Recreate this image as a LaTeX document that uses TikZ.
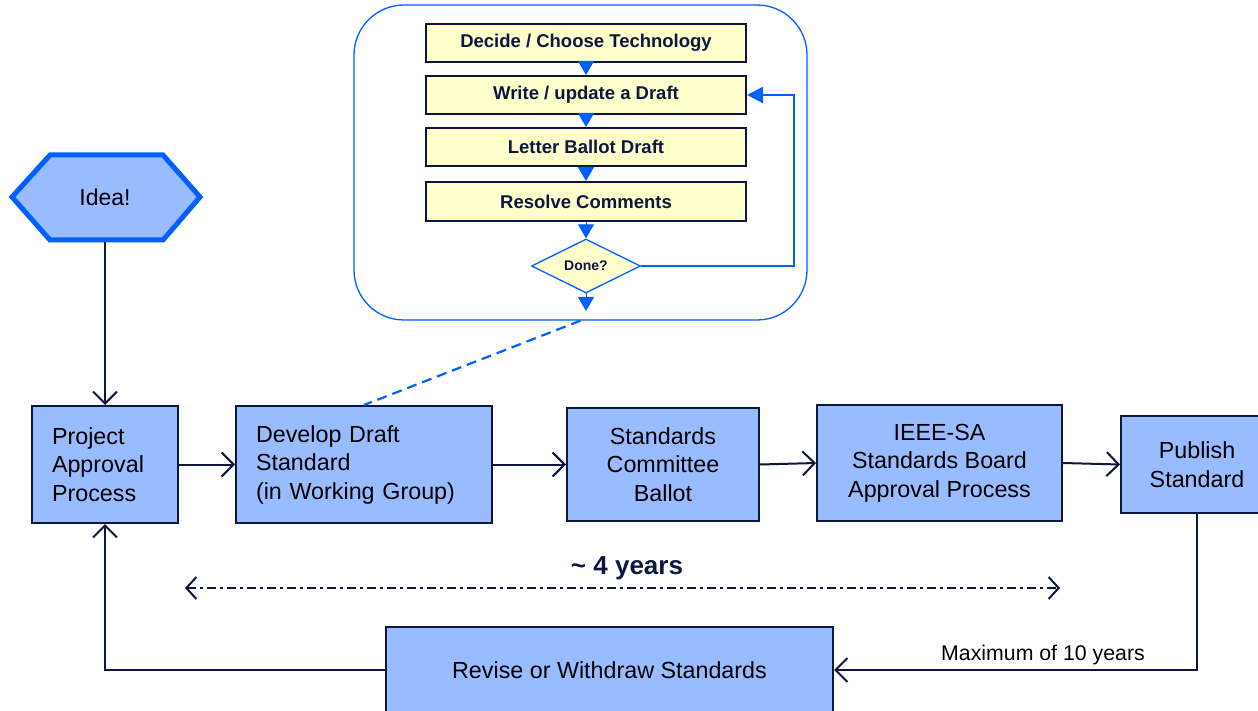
\documentclass[tikz,border=0pt]{standalone}
\usepackage{fontspec}
\setmainfont{Liberation Sans}
\usetikzlibrary{shapes.geometric,arrows.meta}
\definecolor{boxfill}{RGB}{153,187,255}
\definecolor{navy}{RGB}{12,22,62}
\definecolor{vblue}{RGB}{0,95,255}
\definecolor{pyellow}{RGB}{255,255,204}
\tikzset{
  mainbox/.style={draw=navy, line width=2pt, fill=boxfill, inner sep=0pt, font=\fontsize{23.3}{28.5}\selectfont, text=black},
  stepbox/.style={draw=navy, line width=2pt, fill=pyellow, minimum width=320pt, inner sep=0pt, font=\bfseries\fontsize{18.5}{21}\selectfont, text=navy},
  conn/.style={draw=navy, line width=2pt, -{Straight Barb[length=12pt,width=24pt,line width=2pt]}},
  bluetri/.style={draw=vblue, line width=1pt, -{Triangle[length=14pt,width=16pt]}, vblue},
}
\begin{document}
\begin{tikzpicture}[x=1pt,y=-1pt]
\useasboundingbox (0,0) rectangle (1258,711);
% container
\node[draw=vblue, line width=1.3pt, rounded corners=50pt, minimum width=453pt, minimum height=315pt, inner sep=0pt] (cont) at (580.5,162.5) {};
% steps
\node[stepbox, minimum height=38pt] (b1) at (586,43) {Decide / Choose Technology};
\node[stepbox, minimum height=38pt] (b2) at (586,95) {Write / update a Draft};
\node[stepbox, minimum height=38pt] (b3) at (586,147) {Letter Ballot Draft};
\node[stepbox, minimum height=39pt] (b4) at (586,201.5) {Resolve Comments};
\node[diamond, draw=vblue, line width=1.3pt, fill=pyellow, minimum width=109pt, minimum height=54pt, inner sep=0pt, aspect=2, font=\bfseries\fontsize{14}{16}\selectfont, text=navy] (done) at (586,266) {Done?};
\coordinate (dbot) at (586,311);
\coordinate (loopc) at (794,266);
\draw[bluetri] (b1.south) -- (b2.north);
\draw[bluetri] (b2.south) -- (b3.north);
\draw[bluetri] (b3.south) -- (b4.north);
\draw[bluetri] (b4.south) -- (done.north);
\draw[bluetri] ([yshift=2pt]done.south) -- (dbot);
\draw[draw=vblue, line width=2.2pt, -{Triangle[length=16pt,width=16pt]}, vblue] (done.east) -- (loopc) |- (b2.east);
% idea
\draw[draw=vblue, line width=5pt, fill=boxfill, line join=miter] (12,197) -- (50,155) -- (163,155) -- (200,197) -- (163,240) -- (50,240) -- cycle;
\node[font=\fontsize{23}{28}\selectfont] (idea) at (105,197) {Idea!};
\coordinate (ideabot) at (105,242.5);
% main boxes
\node[mainbox, minimum width=146pt, minimum height=117pt, text width=106pt, align=left] (proj) at (105,464.5) {Project\\Approval\\Process};
\node[mainbox, minimum width=256pt, minimum height=117pt, text width=216pt, align=left] (dev) at (364,464.5) {Develop Draft\\Standard\\(in Working Group)};
\node[mainbox, minimum width=192pt, minimum height=113pt, align=center] (scb) at (663,464.5) {Standards\\Committee\\Ballot};
\node[mainbox, minimum width=245pt, minimum height=116pt, align=center] (ieee) at (939.5,463) {IEEE-SA\\Standards Board\\Approval Process};
\node[mainbox, minimum width=152pt, minimum height=97pt, align=center] (pub) at (1197,464.5) {Publish\\Standard};
\node[mainbox, minimum width=447pt, minimum height=86pt] (rev) at (609.5,670) {Revise or Withdraw Standards};
% connectors
\draw[conn] (ideabot) -- (proj.north);
\draw[conn] (proj.east) -- (dev.west);
\draw[conn] (dev.east) -- (scb.west);
\draw[conn] (scb.east) -- (ieee.west);
\draw[conn] (ieee.east) -- (pub.west);
\draw[conn] (pub.south) |- (rev.east);
\draw[conn] (rev.west) -| (proj.south);
\node[font=\fontsize{21.3}{24}\selectfont, text=black] (maxlab) at (1043,655) {Maximum of 10 years};
% dashed link
\draw[draw=vblue, line width=2.2pt, dash pattern=on 10pt off 6pt] (cont.south) -- (dev.north);
% 4 years
\node[font=\bfseries\fontsize{26}{30}\selectfont, text=navy] (four) at (627,568) {\char`\~\ 4 years};
\coordinate (fl) at (185,588);
\coordinate (fr) at (1060,588);
\draw[draw=navy, line width=2pt, dash pattern=on 9pt off 4pt on 3pt off 4pt, {Straight Barb[length=10pt,width=22pt,line width=2pt]}-{Straight Barb[length=10pt,width=22pt,line width=2pt]}] (fl) -- (fr);
\end{tikzpicture}
\end{document}
